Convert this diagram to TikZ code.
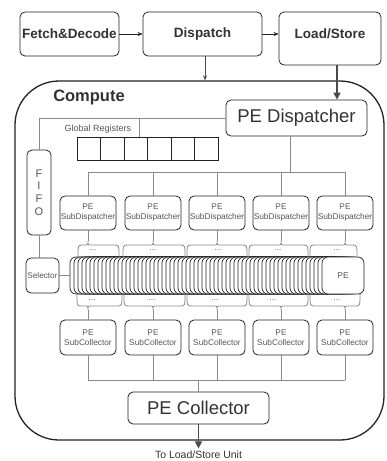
\documentclass[tikz,border=0pt]{standalone}
\usepackage{fontspec}
\setmainfont{Liberation Sans}
\usetikzlibrary{arrows.meta}
\definecolor{ink}{HTML}{222222}
\definecolor{txt}{HTML}{333333}
\definecolor{lbl}{HTML}{555555}
\definecolor{wire}{HTML}{8A8A8A}
\definecolor{darkwire}{HTML}{4A4A4A}
\begin{document}
\begin{tikzpicture}[x=1pt,y=-1pt,
  box/.style={draw=ink,line width=0.8pt,rounded corners=5pt,fill=white,inner sep=0pt,text=txt},
  topbox/.style={box,font=\fontsize{13.5}{16}\selectfont\bfseries},
  bigbox/.style={box,font=\fontsize{18.5}{22}\selectfont},
  smallbox/.style={box,text=lbl,align=center,font=\fontsize{8.3}{10}\selectfont,minimum width=56pt},
  reg/.style={draw=ink,line width=0.8pt,fill=white,minimum width=23.5pt,minimum height=23pt,inner sep=0pt},
  pebox/.style={draw=ink,line width=0.7pt,rounded corners=6pt,fill=white,minimum width=42pt,minimum height=37pt,inner sep=0pt},
  conn/.style={draw=wire,line width=0.9pt},
  arr/.style={draw=ink,line width=0.6pt,-{Stealth[length=5pt,width=4pt]}},
  garr/.style={draw=darkwire,line width=0.6pt,-{Stealth[length=5pt,width=4pt]}},
  thickarr/.style={draw=darkwire,line width=1.4pt,-{Triangle[length=7pt,width=7pt]}},
  dots/.style={text=lbl,font=\fontsize{8}{9}\selectfont,inner sep=0pt}
]
\useasboundingbox (0,0) rectangle (386,461);

% top row
\node[topbox,minimum width=99pt,minimum height=44pt] (fd) at (69.5,34) {Fetch\&Decode};
\node[topbox,minimum width=119pt,minimum height=44pt] (disp) at (202.5,34) {Dispatch};
\node[topbox,minimum width=102pt,minimum height=53pt] (ls) at (330,38.5) {};
\node[text=txt,font=\fontsize{13.5}{16}\selectfont\bfseries,inner sep=0pt] (lst) at (330,34) {Load/Store};

% compute container
\node[draw=ink,line width=1.3pt,rounded corners=44pt,minimum width=369pt,minimum height=359pt,inner sep=0pt] (comp) at (199.5,260.5) {};
\node[text=txt,font=\fontsize{16.5}{19}\selectfont\bfseries,inner sep=0pt] (complbl) at (89,97) {Compute};

\draw[arr] (fd.east) -- (disp.west);
\draw[arr] (disp.east) -- (disp.east -| ls.west);
\draw[garr] ([xshift=2.5pt]disp.south) -- ([xshift=2.5pt]disp.south |- comp.north);

% PE dispatcher
\node[bigbox,minimum width=141pt,minimum height=36pt] (pedisp) at (296.5,118) {PE Dispatcher};
\draw[thickarr] ([xshift=7pt]ls.south) -- ([xshift=7pt]ls.south |- pedisp.north);

% FIFO
\node[box,minimum width=24pt,minimum height=85pt,text=lbl,align=center,font=\fontsize{11}{12.8}\selectfont] (fifo) at (39,192.5) {F\\I\\F\\O};
\draw[conn] (pedisp.west) -| (fifo.north);

% global registers
\foreach \i in {1,...,6}{
  \node[reg] (reg\i) at ({77+23.5*(\i-0.5)},148.5) {};
}
\node[text=lbl,font=\fontsize{9}{11}\selectfont,inner sep=0pt] (glbl) at (98,129) {Global Registers};
\coordinate (gtap) at (139,118);
\draw[conn] (gtap) -- (gtap |- reg3.north);

% selector
\node[box,minimum width=33pt,minimum height=35pt,text=lbl,font=\fontsize{8.2}{10}\selectfont] (sel) at (42.5,275.5) {Selector};
\draw[conn] (fifo.south) -- (fifo.south |- sel.north);

% sub dispatchers / collectors
\foreach \i/\c in {1/88,2/153,3/217,4/281,5/345}{
  \node[smallbox,minimum height=34pt] (sd\i) at (\c,213) {PE\\SubDispatcher};
  \node[smallbox,minimum height=35pt] (sc\i) at (\c,337.5) {PE\\SubCollector};
}
\draw[conn] ([xshift=-6.5pt]pedisp.south) -- ++(0,36) coordinate (busT);
\coordinate (busTL) at (88,172);
\coordinate (busTR) at (345,172);
\draw[conn] (busTL) -- (busTR);
\foreach \i in {1,...,5}{
  \draw[conn] (sd\i.north |- busTL) -- (sd\i.north);
}

% PE stack
\foreach \k in {0,...,62}{
  \node[pebox] (pe\k) at ({70+4*\k+21},275.5) {};
}
\node[pebox,text=lbl,font=\fontsize{8.5}{10}\selectfont] (pe) at (343,275.5) {PE};
\draw[conn] (sel.east) -- (pe0.west);

% top braces
\foreach \i/\a/\c/\b/\d in {1/78/88/119/93,2/123/153/185/153,3/187/217/247/218,4/249/281/308/278,5/310/345/357/337}{
  \draw[conn] (sd\i.south) -- (\c,241);
  \draw[draw=wire,line width=0.8pt] (\a,257) .. controls (\a,245) .. (\a+5,245) -- (\c-4,245) .. controls (\c,245) .. (\c,241) .. controls (\c,245) .. (\c+4,245) -- (\b-5,245) .. controls (\b,245) .. (\b,257);
  \node[dots] (td\i) at (\d,250) {...};
}
% bottom braces
\foreach \i/\a/\c/\b/\d in {1/77/88/122/92,2/124/153/185/152,3/187/217/247/215,4/249/281/308/273,5/310/345/360/337}{
  \draw[conn] (\c,310) -- (sc\i.north);
  \draw[draw=wire,line width=0.8pt] (\a,294) .. controls (\a,306) .. (\a+5,306) -- (\c-4,306) .. controls (\c,306) .. (\c,310) .. controls (\c,306) .. (\c+4,306) -- (\b-5,306) .. controls (\b,306) .. (\b,294);
  \node[dots] (bd\i) at (\d,300) {...};
}

% collector
\node[bigbox,minimum width=141pt,minimum height=32pt] (pecol) at (198.5,408) {PE Collector};
\coordinate (busBL) at (88,380);
\coordinate (busBR) at (345,380);
\draw[conn] (busBL) -- (busBR);
\foreach \i in {1,...,5}{
  \draw[conn] (sc\i.south) -- (sc\i.south |- busBL);
}
\draw[conn] (pecol.north |- busBL) -- (pecol.north);
\draw[thickarr] (pecol.south) -- ++(0,24);
\node[text=txt,font=\fontsize{10.5}{12}\selectfont,inner sep=0pt] (outlbl) at (198.5,455) {To Load/Store Unit};
\end{tikzpicture}
\end{document}
